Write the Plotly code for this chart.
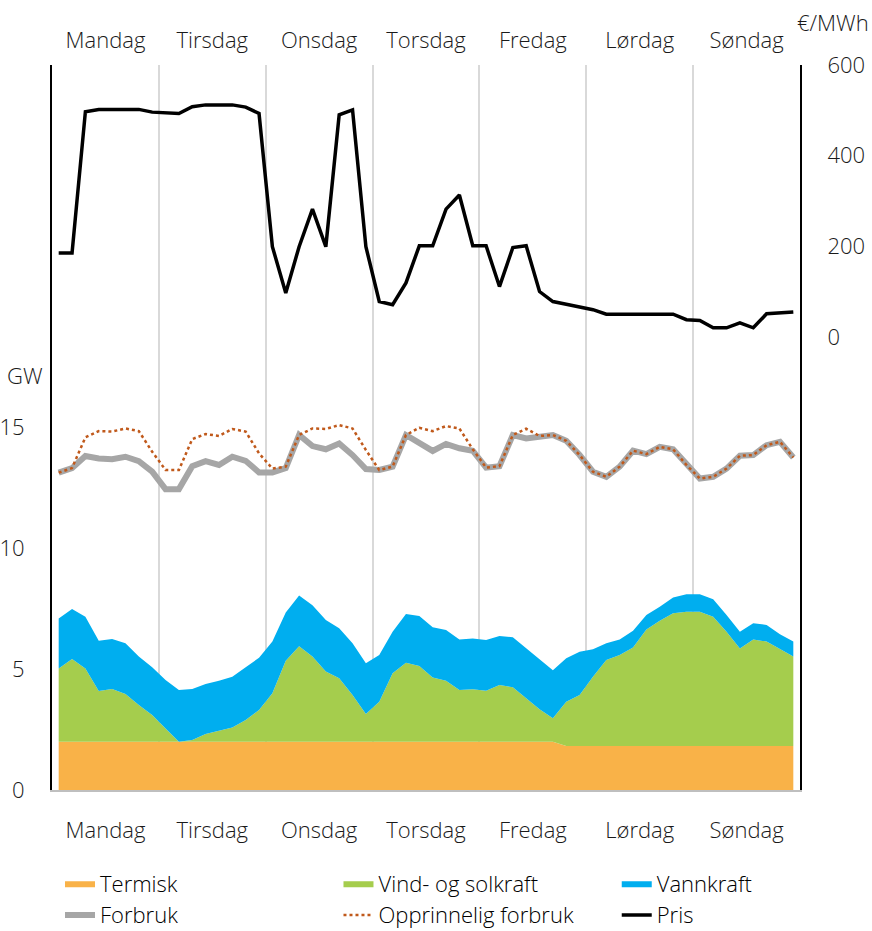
import plotly.graph_objects as go

days = ["Mandag", "Tirsdag", "Onsdag", "Torsdag", "Fredag", "Lørdag", "Søndag"]
steps_per_day = 8

termisk = [2.0, 2.0, 2.0, 2.0, 2.0, 2.0, 2.0, 2.0,
           2.0, 2.0, 2.0, 2.0, 2.0, 2.0, 2.0, 2.0,
           2.0, 2.0, 2.0, 2.0, 2.0, 2.0, 2.0, 2.0,
           2.0, 2.0, 2.0, 2.0, 2.0, 2.0, 2.0, 2.0,
           2.0, 2.0, 2.0, 2.0, 2.0, 2.0, 1.82, 1.82,
           1.82, 1.82, 1.82, 1.82, 1.82, 1.82, 1.82, 1.82,
           1.82, 1.82, 1.82, 1.82, 1.82, 1.82, 1.82, 1.82]

vind_sol = [3.03, 3.42, 3.03, 2.10, 2.18, 1.97, 1.52, 1.10,
            0.55, 0.00, 0.07, 0.32, 0.45, 0.59, 0.90, 1.31,
            2.00, 3.35, 3.95, 3.52, 2.90, 2.62, 1.93, 1.14,
            1.65, 2.83, 3.27, 3.13, 2.66, 2.52, 2.14, 2.17,
            2.11, 2.34, 2.25, 1.79, 1.34, 0.97, 1.83, 2.11,
            2.87, 3.56, 3.77, 4.08, 4.82, 5.18, 5.49, 5.56,
            5.56, 5.35, 4.73, 4.04, 4.41, 4.32, 4.00, 3.70]

vannkraft = [2.07, 2.07, 2.14, 2.08, 2.07, 2.10, 2.00, 1.98,
             2.00, 2.14, 2.11, 2.07, 2.07, 2.10, 2.18, 2.16,
             2.14, 2.00, 2.10, 2.13, 2.13, 2.07, 2.14, 2.10,
             1.94, 1.72, 2.01, 2.07, 2.07, 2.10, 2.09, 2.10,
             2.10, 2.03, 2.07, 2.07, 2.04, 1.99, 1.80, 1.79,
             1.13, 0.69, 0.64, 0.69, 0.60, 0.58, 0.66, 0.72,
             0.72, 0.72, 0.69, 0.69, 0.67, 0.69, 0.63, 0.62]

forbruk = [13.13, 13.32, 13.82, 13.72, 13.69, 13.79, 13.61, 13.17,
           12.45, 12.45, 13.40, 13.61, 13.45, 13.79, 13.62, 13.14,
           13.14, 13.32, 14.69, 14.23, 14.10, 14.34, 13.86, 13.28,
           13.24, 13.38, 14.69, 14.34, 14.03, 14.32, 14.14, 14.04,
           13.34, 13.40, 14.69, 14.55, 14.65, 14.69, 14.45, 13.86,
           13.17, 12.96, 13.38, 14.04, 13.90, 14.20, 14.10, 13.45,
           12.89, 12.96, 13.30, 13.83, 13.86, 14.27, 14.41, 13.76]

opprinnelig = [13.13, 13.32, 14.59, 14.85, 14.83, 14.96, 14.85, 14.00,
               13.24, 13.24, 14.52, 14.73, 14.65, 14.94, 14.83, 13.93,
               13.30, 13.38, 14.69, 14.96, 14.94, 15.10, 14.96, 14.07,
               13.24, 13.38, 14.69, 14.99, 14.85, 15.06, 14.96, 14.10,
               13.34, 13.40, 14.69, 14.95, 14.65, 14.69, 14.45, 13.86,
               13.17, 12.96, 13.38, 14.04, 13.90, 14.20, 14.10, 13.45,
               12.89, 12.96, 13.30, 13.83, 13.86, 14.27, 14.41, 13.76]

pris = [185, 185, 497, 502, 502, 502, 502, 496,
        494, 493, 508, 512, 512, 512, 507, 493,
        199, 97, 199, 282, 199, 490, 501, 199,
        78, 71, 119, 201, 201, 282, 313, 201,
        201, 111, 197, 201, 100, 78, 72, 66,
        60, 50, 50, 50, 50, 50, 50, 38,
        36, 20, 20, 31, 20, 51, 53, 55]

gw_ticks = [0, 5, 10, 15]
price_ticks = [0, 200, 400, 600]

n = len(pris)
x = list(range(n))
day_centers = [d * steps_per_day + (steps_per_day - 1) / 2 for d in range(len(days))]
day_bounds = [d * steps_per_day - 0.5 for d in range(1, len(days))]

FONT = "Open Sans"
TXT = "#1a1a1a"
WEIGHT = 300
FS = 22

fig = go.Figure()
fig.add_trace(go.Scatter(x=x, y=termisk, name="Termisk", stackgroup="g",
                         mode="lines", line=dict(width=0, color="#F9B248"),
                         fillcolor="#F9B248", legend="legend"))
fig.add_trace(go.Scatter(x=x, y=vind_sol, name="Vind- og solkraft", stackgroup="g",
                         mode="lines", line=dict(width=0, color="#A5CD4D"),
                         fillcolor="#A5CD4D", legend="legend2"))
fig.add_trace(go.Scatter(x=x, y=vannkraft, name="Vannkraft", stackgroup="g",
                         mode="lines", line=dict(width=0, color="#00AEEF"),
                         fillcolor="#00AEEF", legend="legend3"))
fig.add_trace(go.Scatter(x=x, y=forbruk, name="Forbruk", mode="lines",
                         line=dict(width=6, color="#A6A6A6"), legend="legend"))
fig.add_trace(go.Scatter(x=x, y=opprinnelig, name="Opprinnelig forbruk", mode="lines",
                         line=dict(width=2.5, color="#C0591B", dash="dot"),
                         legend="legend2"))
fig.add_trace(go.Scatter(x=x, y=pris, name="Pris", mode="lines",
                         line=dict(width=3.5, color="black"),
                         xaxis="x2", yaxis="y2", legend="legend3"))

legend_common = dict(orientation="v", y=-0.1, yanchor="top", xanchor="left",
                     traceorder="normal", tracegroupgap=0,
                     font=dict(family=FONT, size=FS, color="black", weight=WEIGHT),
                     bgcolor="rgba(0,0,0,0)", borderwidth=0)

xr = [-0.5, n - 0.5]
fig.update_layout(
    width=872, height=931,
    margin=dict(l=52, r=72, t=65, b=141, autoexpand=False),
    paper_bgcolor="white", plot_bgcolor="white",
    font=dict(family=FONT, size=FS, color=TXT, weight=WEIGHT),
    showlegend=True,
    legend=dict(x=0.0107, **legend_common),
    legend2=dict(x=0.383, **legend_common),
    legend3=dict(x=0.755, **legend_common),
    xaxis=dict(range=xr, tickmode="array", tickvals=day_centers, ticktext=days,
               ticks="outside", ticklen=20, tickcolor="rgba(0,0,0,0)",
               showgrid=False, zeroline=False, automargin=False,
               showline=True, linecolor="#BFBFBF", linewidth=2,
               minor=dict(tickmode="array", tickvals=day_bounds, showgrid=True,
                          gridcolor="#D9D9D9", gridwidth=2, ticks="")),
    xaxis2=dict(range=xr, overlaying="x", side="top", tickmode="array",
                tickvals=day_centers, ticktext=days, automargin=False,
                ticks="outside", ticklen=7, tickcolor="rgba(0,0,0,0)",
                showgrid=False, zeroline=False, showline=False),
    yaxis=dict(range=[0, 30], tickmode="array", tickvals=gw_ticks,
               ticks="outside", ticklen=21, tickcolor="rgba(0,0,0,0)",
               showgrid=False, zeroline=False, automargin=False,
               showline=True, linecolor="black", linewidth=2),
    yaxis2=dict(range=[-1000, 600], overlaying="y", side="right", tickmode="array",
                tickvals=price_ticks, ticks="outside", ticklen=21, automargin=False,
                tickcolor="rgba(0,0,0,0)", showgrid=False, zeroline=False,
                showline=True, linecolor="black", linewidth=2),
    annotations=[
        dict(text="GW", xref="paper", yref="paper", x=-0.036, y=0.572,
             xanchor="center", yanchor="middle", showarrow=False,
             font=dict(size=FS, color=TXT)),
        dict(text="€/MWh", xref="paper", yref="paper", x=1.044, y=1.059,
             xanchor="center", yanchor="middle", showarrow=False,
             font=dict(size=FS, color=TXT)),
    ],
)

# remove the default 8px page margin so the figure fills the window exactly
fig.write_html("out.html", config={"displayModeBar": False},
               post_script="document.body.style.margin='0px';")
